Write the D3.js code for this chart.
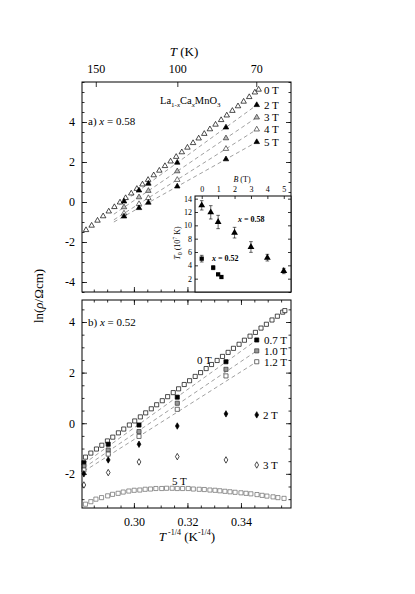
<!DOCTYPE html>
<html><head><meta charset="utf-8">
<script src="https://cdn.jsdelivr.net/npm/d3@7"></script>
<style>
body{margin:0;background:#fff}
svg text{font-family:"Liberation Serif","Times New Roman",serif;fill:#000}
</style>
</head><body>
<svg id="chart" width="415" height="594"></svg>
<script>
// ---- panel a (x = 0.58): ln(rho) vs T^-1/4
const a0V = [0.2821,0.2842,0.2864,0.2885,0.2906,0.2927,0.2948,0.2969,0.2990,0.3011,0.3032,0.3053,0.3074,0.3095,0.3116,0.3137,0.3158,0.3179,0.3200,0.3221,0.3242,0.3263,0.3284,0.3305,0.3326,0.3347,0.3368,0.3389,0.3410,0.3431,0.3452,0.3466];
const a0Y = [-1.40,-1.18,-0.93,-0.71,-0.47,-0.25,-0.02,0.20,0.43,0.66,0.88,1.11,1.34,1.57,1.80,2.03,2.26,2.49,2.72,2.95,3.18,3.41,3.64,3.87,4.10,4.33,4.56,4.79,5.02,5.25,5.48,5.62];
const aFieldV = [0.2963,0.3019,0.3054,0.3162,0.3344,0.3459];
const a2T = [0.03,0.58,0.92,1.97,3.73,4.85];
const a3T = [-0.26,0.24,0.56,1.54,3.19,4.23];
const a4T = [-0.57,-0.10,0.20,1.11,2.66,3.63];
const a5T = [-0.72,-0.30,-0.03,0.78,2.14,3.00];
const aFitV = [0.2925,0.3459];
const aFits = {"2 T":[-0.34,4.85],"3 T":[-0.61,4.23],"4 T":[-0.89,3.63],"5 T":[-1.00,3.00]};

// ---- panel b (x = 0.52)
const b0V = [0.2819,0.2839,0.2860,0.2880,0.2901,0.2921,0.2942,0.2962,0.2983,0.3003,0.3024,0.3044,0.3065,0.3085,0.3106,0.3126,0.3147,0.3167,0.3188,0.3208,0.3229,0.3249,0.3270,0.3290,0.3311,0.3331,0.3352,0.3372,0.3393,0.3413,0.3434,0.3454,0.3475,0.3495,0.3516,0.3536,0.3556,0.3564];
const b0Y = [-1.34,-1.18,-1.02,-0.87,-0.70,-0.55,-0.38,-0.23,-0.07,0.09,0.25,0.41,0.57,0.73,0.89,1.05,1.21,1.36,1.53,1.68,1.85,2.00,2.16,2.32,2.48,2.64,2.80,2.96,3.12,3.28,3.44,3.59,3.76,3.91,4.08,4.23,4.39,4.45];
const bFieldV = [0.2813,0.2904,0.3019,0.3162,0.3344,0.3459];
const b07T = [-1.56,-0.83,-0.07,1.03,2.43,3.29];
const b10T = [-1.70,-1.06,-0.33,0.79,2.13,2.86];
const b12T = [-1.85,-1.22,-0.52,0.55,1.87,2.43];
const b2T = [-2.00,-1.45,-0.83,-0.11,0.37,0.33];
const b3T = [-2.44,-1.95,-1.53,-1.32,-1.45,-1.65];
const bFitV = [0.2813,0.3459];
const bFits = {"0.7 T":[-1.60,3.29],"1.0 T":[-1.76,2.86],"1.2 T":[-1.90,2.43]};
const b5V = [0.2819,0.2839,0.2858,0.2879,0.2902,0.2920,0.2941,0.2960,0.2981,0.3001,0.3022,0.3042,0.3062,0.3082,0.3104,0.3122,0.3143,0.3162,0.3182,0.3203,0.3222,0.3244,0.3263,0.3284,0.3303,0.3321,0.3340,0.3359,0.3378,0.3400,0.3419,0.3437,0.3460,0.3479,0.3497,0.3520,0.3538,0.3561];
const b5Y = [-3.20,-3.10,-3.00,-2.94,-2.87,-2.81,-2.77,-2.72,-2.68,-2.65,-2.64,-2.61,-2.60,-2.58,-2.58,-2.57,-2.57,-2.58,-2.58,-2.58,-2.60,-2.61,-2.62,-2.64,-2.65,-2.67,-2.69,-2.71,-2.73,-2.75,-2.77,-2.79,-2.82,-2.85,-2.88,-2.91,-2.94,-2.97];

// ---- inset: T0 (10^7 K) vs B (T)
const inB58 = [0,0.55,1.0,2.0,3.0,4.0,5.0];
const inT58 = [13.0,11.95,10.5,8.9,6.75,5.15,3.15];
const inE58 = [0.7,1.0,1.0,0.8,0.8,0.5,0.4];
const inB52 = [0,0.7,1.0,1.2];
const inT52 = [5.0,3.65,2.65,2.25];
const inE52 = [0.5,0.3,0,0];

const tTicks = [150,100,70];
const xTicks = [0.30,0.32,0.34];

const svg = d3.select('#chart');
const L = 82, R = 291;
const xLo = 0.2806, xHi = 0.3587;
const x = d3.scaleLinear([xLo, xHi], [L, R]);
const tScale = d3.scalePow().exponent(-0.25).domain([Math.pow(xLo,-4), Math.pow(xHi,-4)]).range([L, R]);
const yA = d3.scaleLinear([-4.5, 6], [292, 82]);
const yB = d3.scaleLinear([-3.35, 4.87], [508, 300]);
const xI = d3.scaleLinear([-0.41, 5.44], [195, R]);
const yI = d3.scaleLinear([0, 14.4], [292, 196]);

const minorX = d3.range(0.285, 0.3551, 0.005);

function styleAxis(g, size) {
  g.attr('font-family', '"Liberation Serif", serif').attr('font-size', size);
  g.select('.domain').remove();
  g.selectAll('line').attr('stroke', '#000').attr('stroke-width', 0.8);
}
function axisPair(g, major, minor, big, small) {
  // major (maybe labelled) + minor ticks, inward
}

function frame(y0, y1) {
  svg.append('rect').attr('x', L).attr('y', y0).attr('width', R - L).attr('height', y1 - y0)
    .attr('fill', 'none').attr('stroke', '#000').attr('stroke-width', 1);
}

function yAxes(y, majors, minors, y0) {
  svg.append('g').attr('transform', `translate(${L},0)`)
    .call(d3.axisLeft(y).tickValues(majors).tickSize(-5).tickPadding(7).tickFormat(d => d < 0 ? '-' + Math.abs(d) : d))
    .call(g => styleAxis(g, 12));
  svg.append('g').attr('transform', `translate(${L},0)`)
    .call(d3.axisLeft(y).tickValues(minors).tickSize(-2.5).tickFormat(''))
    .call(g => styleAxis(g, 12));
  svg.append('g').attr('transform', `translate(${R},0)`)
    .call(d3.axisRight(y).tickValues(majors).tickSize(-5).tickFormat(''))
    .call(g => styleAxis(g, 12));
  svg.append('g').attr('transform', `translate(${R},0)`)
    .call(d3.axisRight(y).tickValues(minors).tickSize(-2.5).tickFormat(''))
    .call(g => styleAxis(g, 12));
}
function xAxis(yPos, top, labels) {
  const mk = top ? d3.axisTop : d3.axisBottom;
  svg.append('g').attr('transform', `translate(0,${yPos})`)
    .call(mk(x).tickValues(xTicks).tickSize(-5).tickPadding(9).tickFormat(labels ? d3.format('.2f') : ''))
    .call(g => styleAxis(g, 12));
  svg.append('g').attr('transform', `translate(0,${yPos})`)
    .call(mk(x).tickValues(minorX).tickSize(-2.5).tickFormat(''))
    .call(g => styleAxis(g, 12));
}

// ================= panel a =================
yAxes(yA, [-4,-2,0,2,4], d3.range(-4.5, 6.01, 0.5), 82);
svg.append('g').attr('transform', `translate(0,82)`)
  .call(d3.axisTop(tScale).tickValues(tTicks).tickSize(-5).tickPadding(9).tickFormat(d => d))
  .call(g => styleAxis(g, 12));
xAxis(292, false, false);

const dash = (v, yv, ys) => d3.line().x(d => x(d[0])).y(d => ys(d[1]))(v.map((vv, i) => [vv, yv[i]]));
Object.values(aFits).forEach(f => {
  svg.append('path').attr('d', dash(aFitV, f, yA)).attr('fill', 'none')
    .attr('stroke', '#888').attr('stroke-width', 0.8).attr('stroke-dasharray', '4,3');
});

const tri = d3.symbol(d3.symbolTriangle, 13);
const sq = d3.symbol(d3.symbolSquare, 17);
const dia = d3.symbol(d3.symbolDiamond, 12);
function marks(vs, ys, yScale, sym, fill, stroke) {
  svg.append('g').selectAll('path').data(vs).join('path')
    .attr('d', sym)
    .attr('transform', (d, i) => `translate(${x(d)},${yScale(ys[i])})`)
    .attr('fill', fill).attr('stroke', stroke).attr('stroke-width', 0.7);
}
marks(a0V, a0Y, yA, tri, '#fff', '#000');
marks(aFieldV, a2T, yA, tri, '#000', '#000');
marks(aFieldV, a3T, yA, tri, '#bbb', '#333');
marks(aFieldV, a4T, yA, tri, '#fff', '#333');
marks(aFieldV, a5T, yA, tri, '#000', '#000');

const aLab = [['0 T', 5.6], ['2 T', 4.85], ['3 T', 4.23], ['4 T', 3.63], ['5 T', 3.0]];
aLab.forEach(([t, v]) => svg.append('text').attr('x', 264).attr('y', yA(v) + 4).attr('font-size', 11).text(t));

const la = svg.append('text').attr('x', 160).attr('y', 104).attr('font-size', 10.5);
la.append('tspan').text('La');
la.append('tspan').attr('font-size', 7).attr('dy', 2.5).text('1-');
la.append('tspan').attr('font-size', 7).attr('font-style', 'italic').text('x');
la.append('tspan').attr('dy', -2.5).text('Ca');
la.append('tspan').attr('font-size', 7).attr('dy', 2.5).attr('font-style', 'italic').text('x');
la.append('tspan').attr('dy', -2.5).text('MnO');
la.append('tspan').attr('font-size', 7).attr('dy', 2.5).text('3');

const ta = svg.append('text').attr('x', 88).attr('y', 125).attr('font-size', 11);
ta.append('tspan').text('a) ');
ta.append('tspan').attr('font-style', 'italic').text('x');
ta.append('tspan').text(' = 0.58');

const tk = svg.append('text').attr('x', 184).attr('y', 56).attr('text-anchor', 'middle').attr('font-size', 13);
tk.append('tspan').attr('font-style', 'italic').text('T');
tk.append('tspan').text(' (K)');

frame(82, 292);

// ---- inset
svg.append('rect').attr('x', 195).attr('y', 196).attr('width', R - 195).attr('height', 96)
  .attr('fill', '#fff').attr('stroke', '#000').attr('stroke-width', 1);
svg.append('g').attr('transform', 'translate(0,196)')
  .call(d3.axisTop(xI).tickValues([0,1,2,3,4,5]).tickSize(-3).tickPadding(4).tickFormat(d => d))
  .call(g => styleAxis(g, 8));
svg.append('g').attr('transform', 'translate(195,0)')
  .call(d3.axisLeft(yI).tickValues([2,4,6,8,10,12,14]).tickSize(-3).tickPadding(3).tickFormat(d => d))
  .call(g => styleAxis(g, 8));
svg.append('g').attr('transform', `translate(${R},0)`)
  .call(d3.axisRight(yI).tickValues([2,4,6,8,10,12,14]).tickSize(-3).tickFormat(''))
  .call(g => styleAxis(g, 8));

function errs(bs, ts, es) {
  bs.forEach((b, i) => {
    if (!es[i]) return;
    const cx = xI(b), y1 = yI(ts[i] - es[i]), y2 = yI(ts[i] + es[i]);
    const g = svg.append('g').attr('stroke', '#000').attr('stroke-width', 0.6);
    g.append('line').attr('x1', cx).attr('x2', cx).attr('y1', y1).attr('y2', y2);
    g.append('line').attr('x1', cx - 1.8).attr('x2', cx + 1.8).attr('y1', y1).attr('y2', y1);
    g.append('line').attr('x1', cx - 1.8).attr('x2', cx + 1.8).attr('y1', y2).attr('y2', y2);
  });
}
errs(inB58, inT58, inE58);
errs(inB52, inT52, inE52);
svg.append('g').selectAll('path').data(inB58).join('path')
  .attr('d', d3.symbol(d3.symbolTriangle, 20))
  .attr('transform', (d, i) => `translate(${xI(d)},${yI(inT58[i])})`).attr('fill', '#000');
svg.append('g').selectAll('path').data(inB52).join('path')
  .attr('d', d3.symbol(d3.symbolSquare, 18))
  .attr('transform', (d, i) => `translate(${xI(d)},${yI(inT52[i])})`).attr('fill', '#000');

const bl = svg.append('text').attr('x', 242).attr('y', 182).attr('text-anchor', 'middle').attr('font-size', 8);
bl.append('tspan').attr('font-style', 'italic').text('B');
bl.append('tspan').text(' (T)');
const i58 = svg.append('text').attr('x', 238).attr('y', 222).attr('font-size', 8).attr('font-weight', 'bold');
i58.append('tspan').attr('font-style', 'italic').text('x');
i58.append('tspan').text(' = 0.58');
const i52 = svg.append('text').attr('x', 212).attr('y', 261).attr('font-size', 8).attr('font-weight', 'bold');
i52.append('tspan').attr('font-style', 'italic').text('x');
i52.append('tspan').text(' = 0.52');
const t0 = svg.append('text').attr('transform', 'translate(180,243) rotate(-90)').attr('text-anchor', 'middle').attr('font-size', 8);
t0.append('tspan').attr('font-style', 'italic').text('T');
t0.append('tspan').attr('font-size', 6).attr('dy', 2).text('0');
t0.append('tspan').attr('dy', -2).text(' (10');
t0.append('tspan').attr('font-size', 6).attr('dy', -3).text('7');
t0.append('tspan').attr('dy', 3).text(' K)');

// ================= panel b =================
yAxes(yB, [-2,0,2,4], d3.range(-3, 4.81, 0.5), 300);
xAxis(300, true, false);
xAxis(508, false, true);

Object.values(bFits).forEach(f => {
  svg.append('path').attr('d', dash(bFitV, f, yB)).attr('fill', 'none')
    .attr('stroke', '#888').attr('stroke-width', 0.8).attr('stroke-dasharray', '4,3');
});
marks(b0V, b0Y, yB, sq, '#fff', '#000');
marks(bFieldV, b07T, yB, sq, '#000', '#000');
marks(bFieldV, b10T, yB, sq, '#999', '#333');
marks(bFieldV, b12T, yB, sq, '#fff', '#333');
marks(bFieldV, b2T, yB, dia, '#000', '#000');
marks(bFieldV, b3T, yB, dia, '#fff', '#000');
marks(b5V, b5Y, yB, sq, '#fff', '#666');

const bLab = [['0.7 T', 264, 3.29], ['1.0 T', 264, 2.86], ['1.2 T', 264, 2.43], ['2 T', 263, 0.33], ['3 T', 263, -1.65]];
bLab.forEach(([t, xx, v]) => svg.append('text').attr('x', xx).attr('y', yB(v) + 4).attr('font-size', 11).text(t));
svg.append('text').attr('x', 197).attr('y', 364).attr('font-size', 11).text('0 T');
svg.append('text').attr('x', 172).attr('y', 485).attr('font-size', 11).text('5 T');

const tb = svg.append('text').attr('x', 88).attr('y', 326).attr('font-size', 11);
tb.append('tspan').text('b) ');
tb.append('tspan').attr('font-style', 'italic').text('x');
tb.append('tspan').text(' = 0.52');

frame(300, 508);

// ---- shared axis titles
const yl = svg.append('text').attr('transform', 'translate(43,296) rotate(-90)').attr('text-anchor', 'middle').attr('font-size', 13);
yl.append('tspan').text('ln(');
yl.append('tspan').attr('font-style', 'italic').text('ρ');
yl.append('tspan').text('/Ωcm)');

const xl = svg.append('text').attr('x', 187).attr('y', 541).attr('text-anchor', 'middle').attr('font-size', 13);
xl.append('tspan').attr('font-style', 'italic').text('T');
xl.append('tspan').attr('font-size', 8).attr('dy', -6).text(' -1/4');
xl.append('tspan').attr('dy', 6).text(' (K');
xl.append('tspan').attr('font-size', 8).attr('dy', -6).text('-1/4');
xl.append('tspan').attr('dy', 6).text(')');
</script>
</body></html>
